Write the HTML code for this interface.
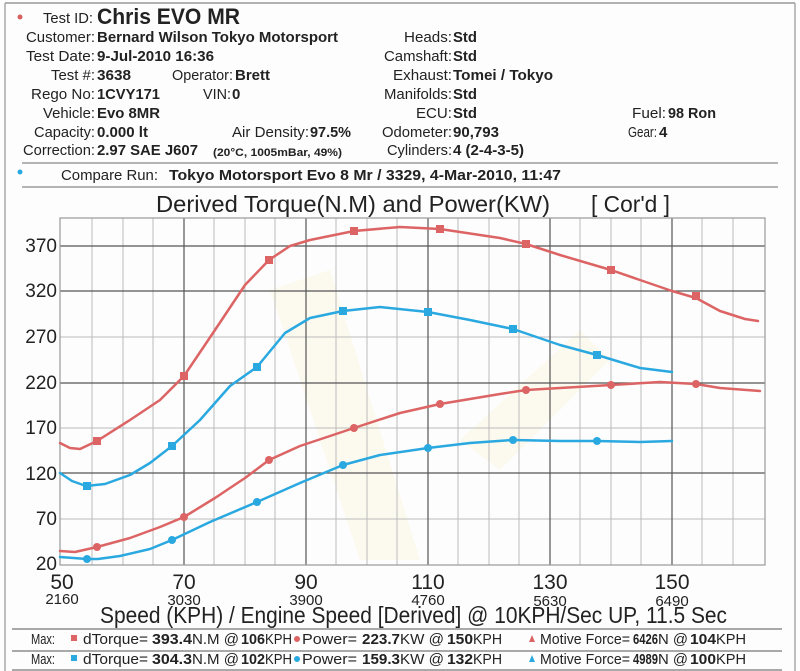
<!DOCTYPE html>
<html><head><meta charset="utf-8"><style>
html,body{margin:0;padding:0;background:#fff}
svg{display:block}
text{font-family:"Liberation Sans",Arial,sans-serif;fill:#222}
.b{font-weight:bold}
</style></head><body>
<svg width="800" height="671" viewBox="0 0 800 671" xmlns="http://www.w3.org/2000/svg">
<rect width="800" height="671" fill="#fdfdfd"/>
<line x1="5" y1="3" x2="795" y2="3" stroke="#999" stroke-width="1.5"/>
<line x1="5" y1="3" x2="5" y2="671" stroke="#aaa" stroke-width="1.5"/>
<line x1="795" y1="3" x2="795" y2="671" stroke="#aaa" stroke-width="1.5"/>
<circle cx="20" cy="17" r="2.5" fill="#d86060"/>
<text x="43" y="23" font-size="15" textLength="50" lengthAdjust="spacingAndGlyphs">Test ID:</text>
<text x="97" y="24" font-size="22" class="b" textLength="143" lengthAdjust="spacingAndGlyphs">Chris EVO MR</text>
<g font-size="15">
<text x="26" y="42" textLength="69" lengthAdjust="spacingAndGlyphs">Customer:</text>
<text x="97" y="42" class="b" textLength="241" lengthAdjust="spacingAndGlyphs">Bernard Wilson Tokyo Motorsport</text>
<text x="26" y="61" textLength="69" lengthAdjust="spacingAndGlyphs">Test Date:</text>
<text x="97" y="61" class="b" textLength="117" lengthAdjust="spacingAndGlyphs">9-Jul-2010 16:36</text>
<text x="51" y="80" textLength="44" lengthAdjust="spacingAndGlyphs">Test #:</text>
<text x="97" y="80" class="b" textLength="34" lengthAdjust="spacingAndGlyphs">3638</text>
<text x="172" y="80" textLength="61" lengthAdjust="spacingAndGlyphs">Operator:</text>
<text x="235" y="80" class="b" textLength="35" lengthAdjust="spacingAndGlyphs">Brett</text>
<text x="31" y="99" textLength="64" lengthAdjust="spacingAndGlyphs">Rego No:</text>
<text x="97" y="99" class="b" textLength="63" lengthAdjust="spacingAndGlyphs">1CVY171</text>
<text x="203" y="99" textLength="28" lengthAdjust="spacingAndGlyphs">VIN:</text>
<text x="232" y="99" class="b">0</text>
<text x="43" y="118" textLength="52" lengthAdjust="spacingAndGlyphs">Vehicle:</text>
<text x="97" y="118" class="b" textLength="63" lengthAdjust="spacingAndGlyphs">Evo 8MR</text>
<text x="34" y="137" textLength="61" lengthAdjust="spacingAndGlyphs">Capacity:</text>
<text x="97" y="137" class="b" textLength="51" lengthAdjust="spacingAndGlyphs">0.000 lt</text>
<text x="232" y="137" textLength="77" lengthAdjust="spacingAndGlyphs">Air Density:</text>
<text x="310" y="137" class="b" textLength="41" lengthAdjust="spacingAndGlyphs">97.5%</text>
<text x="23" y="155" textLength="72" lengthAdjust="spacingAndGlyphs">Correction:</text>
<text x="97" y="155" class="b" textLength="101" lengthAdjust="spacingAndGlyphs">2.97 SAE J607</text>
<text x="213" y="156" class="b" font-size="11" textLength="129" lengthAdjust="spacingAndGlyphs">(20°C, 1005mBar, 49%)</text>
<text x="404" y="42" textLength="48" lengthAdjust="spacingAndGlyphs">Heads:</text>
<text x="453" y="42" class="b" textLength="24" lengthAdjust="spacingAndGlyphs">Std</text>
<text x="384" y="61" textLength="68" lengthAdjust="spacingAndGlyphs">Camshaft:</text>
<text x="453" y="61" class="b" textLength="24" lengthAdjust="spacingAndGlyphs">Std</text>
<text x="393" y="80" textLength="59" lengthAdjust="spacingAndGlyphs">Exhaust:</text>
<text x="453" y="80" class="b" textLength="100" lengthAdjust="spacingAndGlyphs">Tomei / Tokyo</text>
<text x="384" y="99" textLength="68" lengthAdjust="spacingAndGlyphs">Manifolds:</text>
<text x="453" y="99" class="b" textLength="24" lengthAdjust="spacingAndGlyphs">Std</text>
<text x="416" y="118" textLength="36" lengthAdjust="spacingAndGlyphs">ECU:</text>
<text x="453" y="118" class="b" textLength="24" lengthAdjust="spacingAndGlyphs">Std</text>
<text x="382" y="137" textLength="70" lengthAdjust="spacingAndGlyphs">Odometer:</text>
<text x="453" y="137" class="b" textLength="46" lengthAdjust="spacingAndGlyphs">90,793</text>
<text x="387" y="155" textLength="65" lengthAdjust="spacingAndGlyphs">Cylinders:</text>
<text x="453" y="155" class="b" textLength="71" lengthAdjust="spacingAndGlyphs">4 (2-4-3-5)</text>
<text x="632" y="118" textLength="34" lengthAdjust="spacingAndGlyphs">Fuel:</text>
<text x="668" y="118" class="b" textLength="48" lengthAdjust="spacingAndGlyphs">98 Ron</text>
<text x="628" y="137" textLength="29" lengthAdjust="spacingAndGlyphs">Gear:</text>
<text x="659" y="137" class="b">4</text>
</g>
<line x1="22" y1="163" x2="778" y2="163" stroke="#888" stroke-width="1.2"/>
<circle cx="20" cy="172" r="2.5" fill="#2aa8e0"/>
<text x="61" y="180" font-size="15" textLength="97" lengthAdjust="spacingAndGlyphs">Compare Run:</text>
<text x="169" y="180" font-size="15" class="b" textLength="392" lengthAdjust="spacingAndGlyphs">Tokyo Motorsport Evo 8 Mr / 3329,   4-Mar-2010,    11:47</text>
<line x1="22" y1="187" x2="778" y2="187" stroke="#888" stroke-width="1.2"/>
<text x="156" y="212" font-size="23" textLength="394" lengthAdjust="spacingAndGlyphs">Derived Torque(N.M) and Power(KW)</text>
<text x="591" y="212" font-size="23" textLength="79" lengthAdjust="spacingAndGlyphs">[ Cor'd ]</text>
<!-- faint watermark -->
<g opacity="0.15">
<polygon points="270,290 330,270 420,560 360,560" fill="#fbe9a0"/>
<polygon points="460,440 580,330 610,360 500,470" fill="#fbe9a0"/>
</g>
<!-- grid -->
<g stroke="#bbb" stroke-width="1">
<line x1="92" y1="218" x2="92" y2="565"/><line x1="123" y1="218" x2="123" y2="565"/><line x1="153" y1="218" x2="153" y2="565"/>
<line x1="214" y1="218" x2="214" y2="565"/><line x1="245" y1="218" x2="245" y2="565"/><line x1="275" y1="218" x2="275" y2="565"/>
<line x1="336" y1="218" x2="336" y2="565"/><line x1="367" y1="218" x2="367" y2="565"/><line x1="397" y1="218" x2="397" y2="565"/>
<line x1="458" y1="218" x2="458" y2="565"/><line x1="489" y1="218" x2="489" y2="565"/><line x1="519" y1="218" x2="519" y2="565"/>
<line x1="580" y1="218" x2="580" y2="565"/><line x1="611" y1="218" x2="611" y2="565"/><line x1="641" y1="218" x2="641" y2="565"/>
<line x1="702" y1="218" x2="702" y2="565"/><line x1="733" y1="218" x2="733" y2="565"/>
<line x1="60" y1="337" x2="765" y2="337"/><line x1="60" y1="428" x2="765" y2="428"/><line x1="60" y1="519" x2="765" y2="519"/>
</g>
<g stroke="#555" stroke-width="1.2">
<line x1="184" y1="218" x2="184" y2="565"/><line x1="306" y1="218" x2="306" y2="565"/><line x1="428" y1="218" x2="428" y2="565"/>
<line x1="550" y1="218" x2="550" y2="565"/><line x1="672" y1="218" x2="672" y2="565"/>
<line x1="60" y1="246" x2="765" y2="246"/><line x1="60" y1="291" x2="765" y2="291"/><line x1="60" y1="383" x2="765" y2="383"/><line x1="60" y1="473" x2="765" y2="473"/>
</g>
<rect x="60" y="218" width="705" height="347" fill="none" stroke="#999" stroke-width="1.2"/>
<!-- y labels -->
<g font-size="19" text-anchor="end">
<text x="57" y="252">370</text><text x="57" y="297">320</text><text x="57" y="343">270</text><text x="57" y="389">220</text>
<text x="57" y="434">170</text><text x="57" y="480">120</text><text x="57" y="525">70</text><text x="57" y="570">20</text>
</g>
<!-- x labels -->
<g text-anchor="middle">
<g font-size="21"><text x="62" y="589">50</text><text x="184" y="589">70</text><text x="306" y="589">90</text><text x="428" y="589">110</text><text x="550" y="589">130</text><text x="672" y="589">150</text></g>
<g font-size="15"><text x="62" y="604">2160</text><text x="184" y="605">3030</text><text x="306" y="605">3900</text><text x="428" y="605">4760</text><text x="550" y="606">5630</text><text x="672" y="606">6490</text></g>
</g>
<text x="100" y="623" font-size="23" textLength="627" lengthAdjust="spacingAndGlyphs">Speed (KPH) / Engine Speed [Derived] @ 10KPH/Sec UP, 11.5 Sec</text>
<!-- curves -->
<g fill="none" stroke-width="2.5" stroke-linejoin="round" stroke-linecap="round">
<polyline stroke="#dc6464" points="60,443 70,448 80,449 97,441 130,420 160,400 184,376 215,330 245,285 269,260 290,246 310,240 354,231 400,227 440,229 500,238 526,244 560,255 611,270 640,280 672,291 696,298 720,311 745,319 758,321"/>
<polyline stroke="#2aa8e0" points="60,473 72,481 86,486 105,484 130,475 150,463 172,446 200,420 230,386 257,367 285,333 310,318 343,311 380,307 428,312 470,320 513,329 560,345 597,355 640,368 672,372"/>
<polyline stroke="#dc6464" points="60,551 75,552 97,547 130,538 160,527 184,517 215,498 245,478 269,460 300,446 354,428 400,413 440,404 500,394 526,390 560,388 611,385 660,382 696,384 720,388 760,391"/>
<polyline stroke="#2aa8e0" points="60,557 87,559 98,559 120,556 150,549 172,540 210,522 257,502 300,483 343,465 380,455 428,448 470,443 513,440 560,441 597,441 640,442 672,441"/>
</g>
<g fill="#dc6464">
<rect x="93" y="437" width="8" height="8"/><rect x="180" y="372" width="8" height="8"/><rect x="265" y="256" width="8" height="8"/><rect x="350" y="227" width="8" height="8"/><rect x="436" y="225" width="8" height="8"/><rect x="522" y="240" width="8" height="8"/><rect x="607" y="266" width="8" height="8"/><rect x="692" y="292" width="8" height="8"/>
<circle cx="97" cy="547" r="4"/><circle cx="184" cy="517" r="4"/><circle cx="269" cy="460" r="4"/><circle cx="354" cy="428" r="4"/><circle cx="440" cy="404" r="4"/><circle cx="526" cy="390" r="4"/><circle cx="611" cy="385" r="4"/><circle cx="696" cy="384" r="4"/>
</g>
<g fill="#2aa8e0">
<rect x="83" y="482" width="8" height="8"/><rect x="168" y="442" width="8" height="8"/><rect x="253" y="363" width="8" height="8"/><rect x="339" y="307" width="8" height="8"/><rect x="424" y="308" width="8" height="8"/><rect x="509" y="325" width="8" height="8"/><rect x="593" y="351" width="8" height="8"/>
<circle cx="87" cy="559" r="4"/><circle cx="172" cy="540" r="4"/><circle cx="257" cy="502" r="4"/><circle cx="343" cy="465" r="4"/><circle cx="428" cy="448" r="4"/><circle cx="513" cy="440" r="4"/><circle cx="597" cy="441" r="4"/>
</g>
<!-- footer -->
<line x1="12" y1="629" x2="782" y2="629" stroke="#777" stroke-width="1.2"/>
<line x1="12" y1="651" x2="782" y2="651" stroke="#777" stroke-width="1.2"/>
<line x1="12" y1="670" x2="782" y2="670" stroke="#777" stroke-width="1.2"/>
<g font-size="15">
<text x="31" y="644" textLength="24" lengthAdjust="spacingAndGlyphs">Max:</text>
<rect x="71" y="635" width="6" height="6" fill="#dc6464"/>
<text x="83" y="644" textLength="65" lengthAdjust="spacingAndGlyphs">dTorque=</text>
<text x="152" y="644" class="b" textLength="40" lengthAdjust="spacingAndGlyphs">393.4</text>
<text x="192" y="644" textLength="47" lengthAdjust="spacingAndGlyphs">N.M @</text>
<text x="241" y="644" class="b" textLength="24" lengthAdjust="spacingAndGlyphs">106</text>
<text x="265" y="644" textLength="27" lengthAdjust="spacingAndGlyphs">KPH</text>
<circle cx="297" cy="639" r="3" fill="#dc6464"/>
<text x="302" y="644" textLength="55" lengthAdjust="spacingAndGlyphs">Power=</text>
<text x="362" y="644" class="b" textLength="38" lengthAdjust="spacingAndGlyphs">223.7</text>
<text x="400" y="644" textLength="44" lengthAdjust="spacingAndGlyphs">KW @</text>
<text x="447" y="644" class="b" textLength="26" lengthAdjust="spacingAndGlyphs">150</text>
<text x="473" y="644" textLength="29" lengthAdjust="spacingAndGlyphs">KPH</text>
<polygon points="529,642 535,642 532,635" fill="#dc6464"/>
<text x="540" y="644" textLength="90" lengthAdjust="spacingAndGlyphs">Motive Force=</text>
<text x="633" y="644" class="b" textLength="25" lengthAdjust="spacingAndGlyphs">6426</text>
<text x="658" y="644" textLength="30" lengthAdjust="spacingAndGlyphs">N @</text>
<text x="690" y="644" class="b" textLength="26" lengthAdjust="spacingAndGlyphs">104</text>
<text x="716" y="644" textLength="30" lengthAdjust="spacingAndGlyphs">KPH</text>

<text x="31" y="664" textLength="24" lengthAdjust="spacingAndGlyphs">Max:</text>
<rect x="71" y="655" width="6" height="6" fill="#2aa8e0"/>
<text x="83" y="664" textLength="65" lengthAdjust="spacingAndGlyphs">dTorque=</text>
<text x="152" y="664" class="b" textLength="40" lengthAdjust="spacingAndGlyphs">304.3</text>
<text x="192" y="664" textLength="47" lengthAdjust="spacingAndGlyphs">N.M @</text>
<text x="241" y="664" class="b" textLength="24" lengthAdjust="spacingAndGlyphs">102</text>
<text x="265" y="664" textLength="27" lengthAdjust="spacingAndGlyphs">KPH</text>
<circle cx="297" cy="659" r="3" fill="#2aa8e0"/>
<text x="302" y="664" textLength="55" lengthAdjust="spacingAndGlyphs">Power=</text>
<text x="362" y="664" class="b" textLength="38" lengthAdjust="spacingAndGlyphs">159.3</text>
<text x="400" y="664" textLength="44" lengthAdjust="spacingAndGlyphs">KW @</text>
<text x="447" y="664" class="b" textLength="26" lengthAdjust="spacingAndGlyphs">132</text>
<text x="473" y="664" textLength="29" lengthAdjust="spacingAndGlyphs">KPH</text>
<polygon points="529,662 535,662 532,655" fill="#2aa8e0"/>
<text x="540" y="664" textLength="90" lengthAdjust="spacingAndGlyphs">Motive Force=</text>
<text x="633" y="664" class="b" textLength="25" lengthAdjust="spacingAndGlyphs">4989</text>
<text x="658" y="664" textLength="30" lengthAdjust="spacingAndGlyphs">N @</text>
<text x="690" y="664" class="b" textLength="26" lengthAdjust="spacingAndGlyphs">100</text>
<text x="716" y="664" textLength="30" lengthAdjust="spacingAndGlyphs">KPH</text>
</g>
</svg>
</body></html>
